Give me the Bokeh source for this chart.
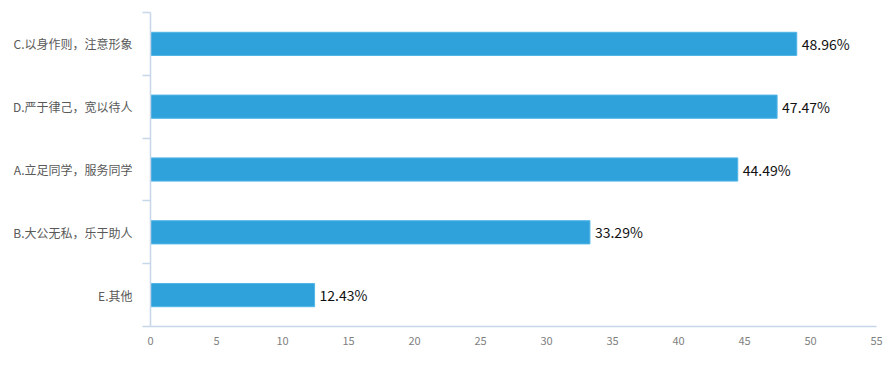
from bokeh.plotting import figure
from bokeh.models import FixedTicker, ColumnDataSource, Range1d
from bokeh.core.properties import value
from bokeh.embed import file_html
from bokeh.resources import INLINE

categories = ["E.其他", "B.大公无私，乐于助人", "A.立足同学，服务同学", "D.严于律己，宽以待人", "C.以身作则，注意形象"]
values = [12.43, 33.29, 44.49, 47.47, 48.96]
labels = ["12.43%", "33.29%", "44.49%", "47.47%", "48.96%"]
x_ticks = [0, 5, 10, 15, 20, 25, 30, 35, 40, 45, 50, 55]

FONT = "Noto Sans CJK SC"
ypos = [i + 0.5 for i in range(len(categories))]
src = ColumnDataSource(dict(y=ypos, v=values, lab=labels))

p = figure(width=887, height=372, output_backend="svg", toolbar_location=None,
           x_range=Range1d(0, 55), y_range=Range1d(0, len(categories)),
           min_border_left=150, min_border_right=11, min_border_top=12, min_border_bottom=46)
p.outline_line_color = None
p.grid.visible = False
p.background_fill_color = "white"
p.border_fill_color = "white"

p.hbar(y="y", right="v", left=0, height=0.37, source=src,
       fill_color="#30A2DB", line_color="#52B6E6", line_width=1)
p.text(x="v", y="y", text="lab", source=src, x_offset=5,
       text_align="left", text_baseline="middle",
       text_font=value(FONT), text_font_size="14px", text_color="#111111")

# y axis
yax = p.yaxis[0]
yax.ticker = FixedTicker(ticks=ypos, minor_ticks=list(range(len(categories) + 1)))
yax.major_label_overrides = {y: c for y, c in zip(ypos, categories)}
yax.axis_line_color = "#C6D7EA"
yax.axis_line_width = 1.5
yax.major_tick_line_color = None
yax.major_tick_out = 7
yax.major_tick_in = 0
yax.minor_tick_line_color = "#C6D7EA"
yax.minor_tick_line_width = 1.5
yax.minor_tick_out = 8
yax.minor_tick_in = 0
yax.major_label_standoff = 10
yax.major_label_text_font = FONT
yax.major_label_text_font_size = "12px"
yax.major_label_text_color = "#595959"

# x axis
xax = p.xaxis[0]
xax.ticker = FixedTicker(ticks=x_ticks)
xax.axis_line_color = "#C6D7EA"
xax.axis_line_width = 1.5
xax.major_tick_line_color = None
xax.minor_tick_line_color = None
xax.major_tick_out = 0
xax.major_tick_in = 0
xax.major_label_standoff = 10
xax.major_label_text_font = FONT
xax.major_label_text_font_size = "11px"
xax.major_label_text_color = "#7F7F7F"

open("out.html", "w").write(file_html(p, INLINE))
